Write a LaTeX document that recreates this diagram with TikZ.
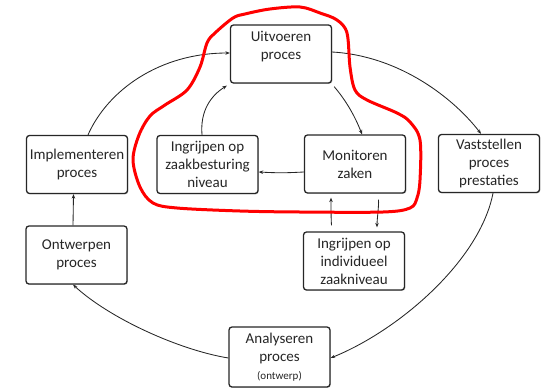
\documentclass[tikz,border=0pt]{standalone}
\usepackage{fontspec}
\setmainfont{Carlito}
\usetikzlibrary{arrows.meta,shadows}
\tikzset{
  box/.style={draw=black!85, line width=1.3pt, rounded corners=3pt, fill=white,
    minimum width=101pt, minimum height=58pt, inner sep=0pt, align=center,
    text=black!85, font=\fontsize{15}{18}\selectfont,
    drop shadow={shadow xshift=0.9pt, shadow yshift=-0.9pt, opacity=0.3}},
  conn/.style={draw=black!85, line width=0.85pt, -{Stealth[length=4.5pt,width=3.5pt]}},
  redline/.style={draw=red, line width=3pt, line join=round, line cap=round}
}
\begin{document}
\begin{tikzpicture}[x=1pt,y=-1pt]
\useasboundingbox (0,0) rectangle (556,391);
\node[box] (uit) at (281,54) {Uitvoeren\\proces\\~};
\node[box] (ingz) at (207.5,164.5) {Ingrijpen op\\zaakbesturing\\niveau};
\node[box] (mon) at (355,164) {Monitoren\\zaken};
\node[box] (impl) at (77,164.5) {Implementeren\\proces};
\node[box] (ontw) at (76.5,255) {Ontwerpen\\proces};
\node[box] (ingi) at (354,261) {Ingrijpen op\\individueel\\zaakniveau};
\node[box, minimum height=60pt] (ana) at (279.5,357) {Analyseren\\proces\\{\fontsize{11}{14}\selectfont (ontwerp)}};
\node[box] (vast) at (489,163.5) {Vaststellen\\proces\\prestaties};

% outer cycle
\draw[conn] ([xshift=11pt]impl.north) .. controls +(20,-45) and +(-70,0) .. ([yshift=1pt]uit.west);
\draw[conn] ([yshift=2pt]uit.east) .. controls +(69,4) and +(-26,-34) .. ([xshift=-8pt]vast.north);
\draw[conn] ([xshift=4pt]vast.south) .. controls +(-13,67) and +(69,-28) .. ([yshift=-1pt]ana.east);
\draw[conn] ([yshift=-1pt]ana.west) .. controls +(-49,-8) and +(37,34) .. ([xshift=-3.5pt]ontw.south);
\draw[conn] ([xshift=-3.5pt]ontw.north) -- ([xshift=-3.5pt]impl.south);

% inner cycle
\draw[conn] ([xshift=2pt,yshift=-3pt]uit.south east) .. controls +(12,14) and +(-7,-18) .. ([xshift=7pt]mon.north);
\draw[conn] ([yshift=-8pt]mon.west) .. controls +(-20,1) and +(20,1) .. ([yshift=-7.5pt]ingz.east);
\draw[conn] ([xshift=-5.5pt]ingz.north) .. controls +(-2,-24) and +(-16,10) .. ([xshift=-3pt,yshift=-2pt]uit.south west);
\draw[conn, shorten <=6pt, shorten >=4pt] ([xshift=-22pt]ingi.north) .. controls +(-1,-12) and +(0,12) .. ([xshift=-24pt]mon.south);
\draw[conn, shorten <=6pt, shorten >=4pt] ([xshift=23pt]mon.south) .. controls +(1,12) and +(0,-12) .. ([xshift=23pt]ingi.north);

% red freehand outline
\draw[redline] plot[smooth cycle, tension=0.55] coordinates {
 (300,7) (270,9) (245,14) (233,18) (215,33) (207,43) (200,67) (187,90)
 (165,105) (150,116) (139,135) (133,160) (140,187) (153,203) (177,208)
 (240,211) (300,212) (383,212) (410,208) (417,198) (420,180) (420,140)
 (410,122) (397,113) (367,100) (355,90) (350,67) (347,33) (337,20) (320,13)};
\end{tikzpicture}
\end{document}
